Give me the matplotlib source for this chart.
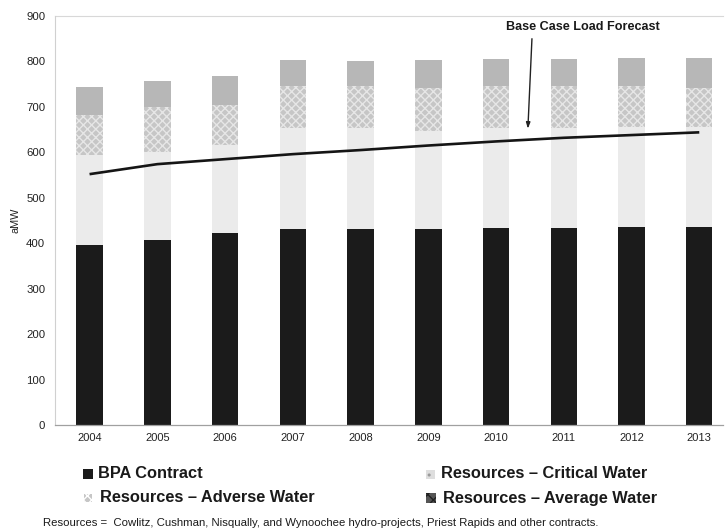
import matplotlib
matplotlib.use("Agg")
import matplotlib.pyplot as plt
from matplotlib.patches import Rectangle
import numpy as np

plt.rcParams['font.family'] = ['Liberation Sans', 'DejaVu Sans']

years = ['2004', '2005', '2006', '2007', '2008', '2009', '2010', '2011', '2012', '2013']
bpa_contract = [395, 406, 422, 431, 431, 432, 433, 433, 435, 435]
critical_water = [199, 194, 194, 222, 222, 214, 221, 221, 221, 221]
adverse_water = [88, 100, 88, 92, 92, 95, 91, 92, 89, 85]
average_water = [61, 57, 65, 58, 56, 62, 60, 59, 62, 66]
load_forecast = [552, 574, 585, 596, 605, 615, 624, 632, 638, 644]
y_ticks = [0, 100, 200, 300, 400, 500, 600, 700, 800, 900]

W, H = 726, 529
fig = plt.figure(figsize=(W / 100, H / 100), dpi=100)
ax = fig.add_axes([55 / W, 104 / H, (723 - 55) / W, (513 - 104) / H])

x = np.arange(len(years))
bw = 0.39
c_bpa = '#1b1b1b'
c_crit = '#ebebeb'
c_adv = '#c6c6c6'
c_avg = '#b7b7b7'

b1 = np.array(bpa_contract)
b2 = b1 + np.array(critical_water)
b3 = b2 + np.array(adverse_water)

ax.bar(x, bpa_contract, bw, color=c_bpa, linewidth=0)
ax.bar(x, critical_water, bw, bottom=b1, color=c_crit, linewidth=0)
ax.bar(x, adverse_water, bw, bottom=b2, facecolor=c_adv, edgecolor='#e6e6e6',
       hatch='xxxx', linewidth=0)
ax.bar(x, average_water, bw, bottom=b3, color=c_avg, linewidth=0)

ax.plot(x, load_forecast, color='#151515', linewidth=1.9, solid_capstyle='butt', zorder=5)

# Callout label with a near-vertical pointer down to the forecast line
ax.text(7.28, 876, 'Base Case Load Forecast', ha='center', va='center',
        fontsize=9.1, fontweight='bold', color='#1a1a1a')
ax.annotate('', xy=(6.47, 652), xytext=(6.53, 850),
            arrowprops=dict(arrowstyle='-|>,head_length=0.35,head_width=0.12',
                            color='#222222', linewidth=1.0,
                            shrinkA=0, shrinkB=0))

ax.set_xlim(-0.51, 9.35)
ax.set_ylim(0, 900)
ax.set_yticks(y_ticks)
ax.set_yticklabels([str(v) for v in y_ticks], fontsize=8.2, color='#222222')
ax.set_xticks(x)
ax.set_xticklabels(years, fontsize=8, color='#222222')
ax.tick_params(axis='both', length=0)
ax.tick_params(axis='y', pad=7)
ax.tick_params(axis='x', pad=6)
ax.set_ylabel('aMW', fontsize=7.8, color='#222222', labelpad=4)

for side in ['top', 'right']:
    ax.spines[side].set_visible(False)
ax.spines['left'].set_color('#d0d0d0')
ax.spines['left'].set_linewidth(0.8)
ax.spines['bottom'].set_color('#a0a0a0')
ax.spines['bottom'].set_linewidth(0.9)
ax.axhline(900, color='#d8d8d8', linewidth=0.8, clip_on=False)


def fx(px):
    return px / W


def fy(py):
    return 1 - py / H


def legend_item(x_mark, x_text, y_center, label, face, hatch=None, edge=None, size=10):
    fig.patches.append(Rectangle((fx(x_mark), fy(y_center + size / 2)), size / W, size / H,
                                 transform=fig.transFigure, facecolor=face,
                                 edgecolor=edge if edge else face, hatch=hatch,
                                 linewidth=0))
    fig.text(fx(x_text), fy(y_center), label, ha='left', va='center',
             fontsize=11.8, fontweight='bold', color='#1a1a1a')


legend_item(83, 98, 474, 'BPA Contract', c_bpa)
legend_item(84, 100, 498, 'Resources – Adverse Water', c_adv, hatch='xxxx', edge='#ffffff', size=8)
legend_item(426, 441, 474, 'Resources – Critical Water', '#dedede', hatch='..', edge='#9a9a9a', size=9)
legend_item(426, 443, 498, 'Resources – Average Water', '#555555', hatch='xxx', edge='#222222', size=10)

fig.text(fx(43), fy(523),
         'Resources =  Cowlitz, Cushman, Nisqually, and Wynoochee hydro-projects, '
         'Priest Rapids and other contracts.',
         ha='left', va='center', fontsize=8.2, color='#1a1a1a')

fig.savefig('out.png', dpi=100)
